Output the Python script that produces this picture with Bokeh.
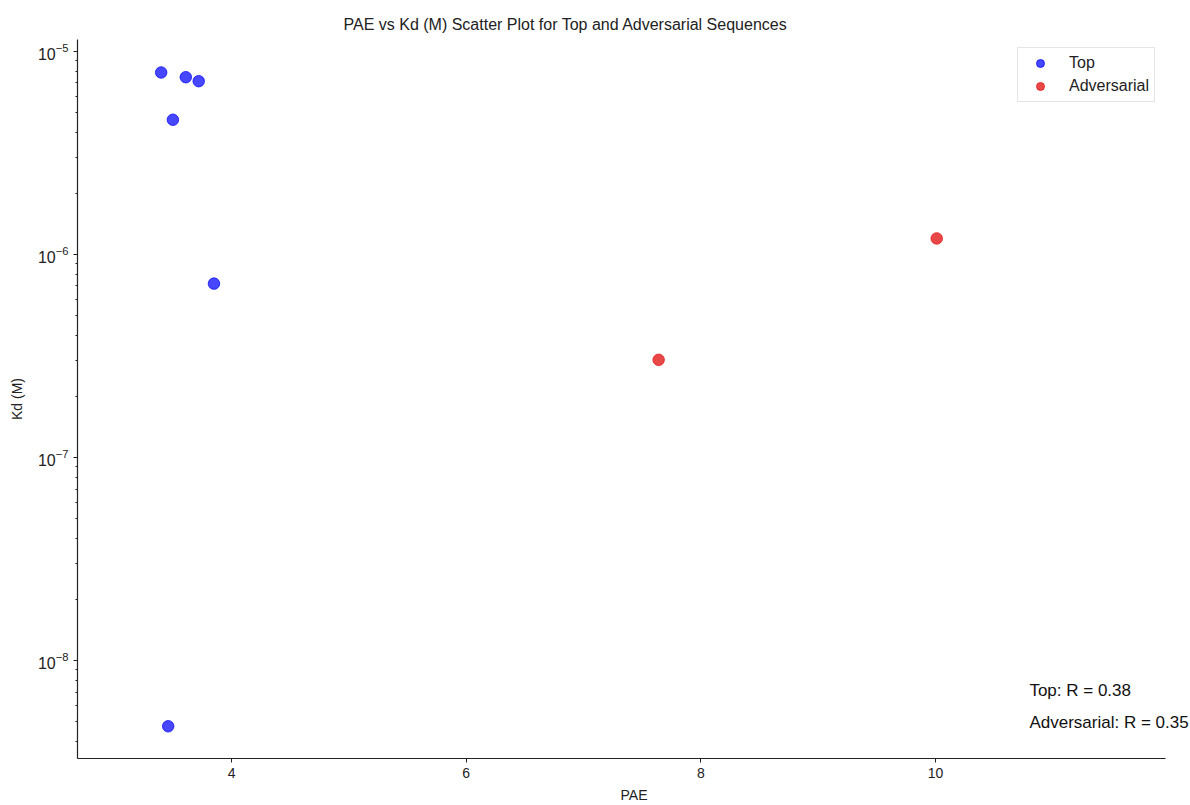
from bokeh.plotting import figure
from bokeh.models import Range1d, Legend, LegendItem, Label, FixedTicker, LogTicker, ColumnDataSource
from bokeh.embed import file_html
from bokeh.resources import INLINE

# Data
top_pae = [3.40, 3.61, 3.72, 3.50, 3.85, 3.46]
top_kd = [7.88e-6, 7.47e-6, 7.14e-6, 4.61e-6, 7.19e-7, 4.75e-9]
adv_pae = [7.64, 10.01]
adv_kd = [3.03e-7, 1.20e-6]
x_ticks = [4, 6, 8, 10]
y_ticks = [1e-8, 1e-7, 1e-6, 1e-5]
r_labels = ["Top: R = 0.38", "Adversarial: R = 0.35"]

FONT = "Liberation Sans"

X_LO, X_AX_HI, X_HI = 2.687, 11.96, 12.173

p = figure(width=1190, height=805, output_backend="svg", toolbar_location=None,
           y_axis_type="log",
           x_range=Range1d(X_LO, X_HI), y_range=Range1d(10 ** -8.482, 10 ** -4.941),
           title="PAE vs Kd (M) Scatter Plot for Top and Adversarial Sequences",
           min_border_left=77, min_border_right=0, min_border_top=39, min_border_bottom=46)

p.title.align = "left"
p.title.text_font = FONT
p.title.text_font_size = "16px"
p.title.text_font_style = "normal"
p.title.text_color = "#222222"
p.title.offset = 266
p.title.standoff = 14

p.xgrid.visible = False
p.ygrid.visible = False
p.outline_line_color = None

src_top = ColumnDataSource(dict(x=top_pae, y=top_kd))
src_adv = ColumnDataSource(dict(x=adv_pae, y=adv_kd))
r1 = p.scatter("x", "y", source=src_top, size=11.5, fill_color="blue", line_color="blue",
               fill_alpha=0.72, line_alpha=0.72)
r2 = p.scatter("x", "y", source=src_adv, size=11.5, fill_color="#e41a1c", line_color="#e41a1c",
               fill_alpha=0.8, line_alpha=0.8)

for ax in (p.xaxis[0], p.yaxis[0]):
    ax.axis_line_color = "#222222"
    ax.axis_line_width = 1.2
    ax.major_tick_line_color = "#222222"
    ax.minor_tick_line_color = "#222222"
    ax.major_tick_in = 0
    ax.major_tick_out = 4
    ax.minor_tick_in = 0
    ax.minor_tick_out = 2
    ax.major_label_text_font = FONT
    ax.major_label_text_font_size = "14px"
    ax.major_label_text_color = "#222222"
    ax.axis_label_text_font = FONT
    ax.axis_label_text_font_size = "14px"
    ax.axis_label_text_font_style = "normal"
    ax.axis_label_text_color = "#222222"

p.xaxis[0].ticker = FixedTicker(ticks=x_ticks)
p.xaxis[0].bounds = (X_LO, X_AX_HI)
p.xaxis[0].minor_tick_line_color = None
p.xaxis[0].axis_label = "PAE"
p.xaxis[0].axis_label_standoff = 6
p.xaxis[0].major_label_standoff = 5

p.yaxis[0].ticker = LogTicker(desired_num_ticks=4, num_minor_ticks=10)
p.yaxis[0].major_label_text_font_size = "16px"
p.yaxis[0].axis_label = "Kd (M)"
p.yaxis[0].axis_label_standoff = 10

legend = Legend(items=[LegendItem(label="Top", renderers=[r1]),
                       LegendItem(label="Adversarial", renderers=[r2])],
                location=(940, 656))
legend.label_text_font = FONT
legend.label_text_font_size = "16px"
legend.label_text_color = "#222222"
legend.border_line_color = "#cccccc"
legend.border_line_width = 1
legend.margin = 0
legend.padding = 5
legend.spacing = 3
legend.glyph_width = 34
legend.glyph_height = 20
legend.label_standoff = 12
legend.label_height = 20
p.add_layout(legend)

ann_y = [7.12e-9, 4.95e-9]
for txt, yy in zip(r_labels, ann_y):
    p.add_layout(Label(x=10.80, y=yy, text=txt, text_font=FONT, text_font_size="17px",
                       text_color="#111111", text_baseline="middle", text_align="left"))

open("out.html", "w").write(file_html(p, INLINE))
